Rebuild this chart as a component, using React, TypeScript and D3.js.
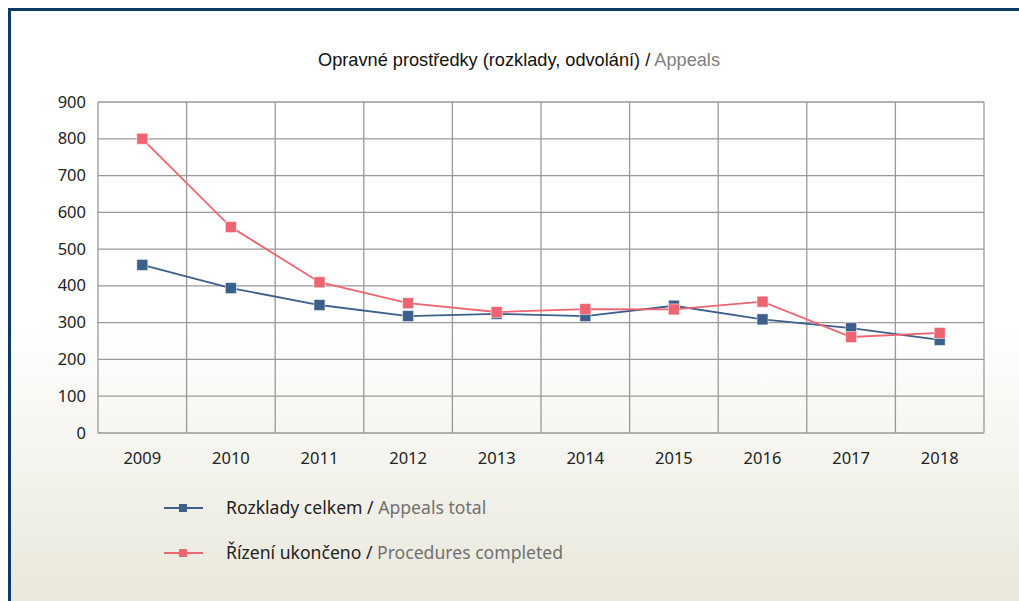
import React from "react";
import * as d3 from "d3";

const years = ["2009", "2010", "2011", "2012", "2013", "2014", "2015", "2016", "2017", "2018"];
const appealsTotal = [457, 394, 348, 318, 324, 318, 346, 309, 285, 253];
const proceduresCompleted = [800, 560, 410, 353, 329, 337, 336, 357, 261, 272];
const yTicks = [0, 100, 200, 300, 400, 500, 600, 700, 800, 900];

const series = [
  { cz: "Rozklady celkem", en: "Appeals total", values: appealsTotal, color: "#3d5f8c" },
  { cz: "Řízení ukončeno", en: "Procedures completed", values: proceduresCompleted, color: "#ee6470" },
];

export default function App() {
  const W = 1019, H = 601;
  const left = 98, right = 984, top = 102, bottom = 433;
  const x = d3.scaleBand<string>().domain(years).range([left, right]);
  const y = d3.scaleLinear().domain([0, 900]).range([bottom, top]);
  const line = d3.line<number>().x((_, i) => x(years[i])! + x.bandwidth() / 2).y((d) => y(d));
  const tickFont = "'Noto Sans', 'Open Sans', sans-serif";
  return (
    <svg width={W} height={H} style={{ position: "absolute", left: 0, top: 0 }}>
      <defs>
        <linearGradient id="bg" x1="0" y1="0" x2="0" y2="1">
          <stop offset="0" stopColor="#ffffff" />
          <stop offset="0.5" stopColor="#ffffff" />
          <stop offset="0.7" stopColor="#f6f5f0" />
          <stop offset="1" stopColor="#e7e5d7" />
        </linearGradient>
      </defs>
      <rect x={0} y={0} width={W} height={H} fill="#ffffff" />
      <rect x={9.5} y={9.5} width={W + 20} height={H + 20} fill="url(#bg)" stroke="#0c3b68" strokeWidth={3} />
      <text x={519} y={66} textAnchor="middle" fontFamily="'Liberation Sans', Arial, sans-serif" fontSize={18.2} fill="#111">
        Opravné prostředky (rozklady, odvolání) / <tspan fill="#7f7f7f">Appeals</tspan>
      </text>
      {yTicks.map((t) => (
        <g key={t}>
          <line x1={left} x2={right} y1={y(t)} y2={y(t)} stroke="#999" strokeWidth={1.3} />
          <text x={86} y={y(t) + 5.5} textAnchor="end" fontFamily={tickFont} fontSize={16.5} fill="#222">{t}</text>
        </g>
      ))}
      {years.map((yr) => (
        <line key={yr} x1={x(yr)} x2={x(yr)} y1={top} y2={bottom} stroke="#999" strokeWidth={1.3} />
      ))}
      <line x1={right} x2={right} y1={top} y2={bottom} stroke="#999" strokeWidth={1.3} />
      {years.map((yr) => (
        <text key={yr} x={x(yr)! + x.bandwidth() / 2} y={464} textAnchor="middle" fontFamily={tickFont} fontSize={16.5} fill="#222">{yr}</text>
      ))}
      {series.map((s) => (
        <g key={s.cz}>
          <path d={line(s.values) || ""} fill="none" stroke={s.color} strokeWidth={1.8} />
          {s.values.map((v, i) => (
            <rect key={i} x={x(years[i])! + x.bandwidth() / 2 - 5.5} y={y(v) - 5.5} width={11} height={11} fill={s.color} stroke="#ffffff" strokeOpacity={0.5} strokeWidth={1} />
          ))}
        </g>
      ))}
      {series.map((s, i) => {
        const ly = 508 + i * 45;
        return (
          <g key={s.en}>
            <line x1={164} x2={203} y1={ly} y2={ly} stroke={s.color} strokeWidth={1.8} />
            <rect x={179} y={ly - 4} width={8} height={8} fill={s.color} />
            <text x={226} y={ly + 6} fontFamily={tickFont} fontSize={17.6} fill="#222">
              {s.cz} / <tspan fill="#707070">{s.en}</tspan>
            </text>
          </g>
        );
      })}
    </svg>
  );
}
